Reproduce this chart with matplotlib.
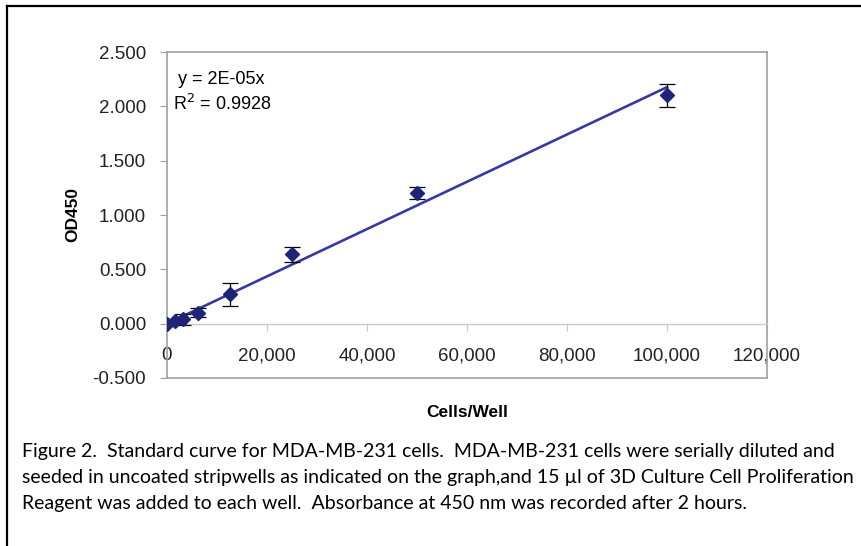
import numpy as np
import matplotlib
matplotlib.use("Agg")
import matplotlib.pyplot as plt
from matplotlib.lines import Line2D

# data (cells per well vs OD450)
cells = [0, 1562.5, 3125, 6250, 12500, 25000, 50000, 100000]
od450 = [0.00, 0.02, 0.04, 0.10, 0.27, 0.64, 1.20, 2.10]
od_err = [0.02, 0.02, 0.05, 0.04, 0.105, 0.07, 0.055, 0.105]

x_ticks = [0, 20000, 40000, 60000, 80000, 100000, 120000]
y_ticks = [-0.5, 0.0, 0.5, 1.0, 1.5, 2.0, 2.5]

equation = "y = 2E-05x"
r_squared = "R$^2$ = 0.9928"
caption = [
    "Figure 2.  Standard curve for MDA-MB-231 cells.  MDA-MB-231 cells were serially diluted and",
    "seeded in uncoated stripwells as indicated on the graph,and 15 \u00b5l of 3D Culture Cell Proliferation",
    "Reagent was added to each well.  Absorbance at 450 nm was recorded after 2 hours.",
]

plt.rcParams["font.family"] = ["Liberation Sans", "DejaVu Sans"]

fig = plt.figure(figsize=(8.61, 5.46), dpi=100)
ax = fig.add_axes([167 / 861, 1 - 378 / 546, 600 / 861, 326 / 546])

x = np.array(cells)
y = np.array(od450)
slope = np.sum(x * y) / np.sum(x * x)
xs = np.array([0, x.max()])
ax.plot(xs, slope * xs, color="#3838a0", lw=1.9, zorder=2)

ax.errorbar(cells, od450, yerr=od_err, fmt="none", ecolor="black",
            elinewidth=0.9, capsize=6, capthick=0.9, zorder=3)
ax.plot(cells, od450, "D", color="#1f2477", ms=7.5, zorder=4)

ax.set_xlim(0, 120000)
ax.set_ylim(-0.5, 2.5)
ax.set_xticks(x_ticks)
ax.set_xticklabels([f"{v:,}" for v in x_ticks])
ax.set_yticks(y_ticks)
ax.set_yticklabels([f"{v:.3f}" for v in y_ticks])

gray = "#a0a0a0"
for side in ["left", "right", "top"]:
    ax.spines[side].set_color(gray)
    ax.spines[side].set_linewidth(1.2)
ax.spines["bottom"].set_position(("data", 0))
ax.spines["bottom"].set_color("#c8c8c8")
ax.spines["bottom"].set_linewidth(1.0)
ax.plot([0, 120000], [-0.5, -0.5], color=gray, lw=1.2, clip_on=False, zorder=1)

ax.tick_params(axis="y", direction="out", length=5, color=gray, pad=10,
               labelsize=13.5, labelcolor="#222222")
ax.tick_params(axis="x", direction="out", length=5, color="#c8c8c8", pad=12,
               labelsize=13.5, labelcolor="#222222")

ax.set_ylabel("OD450", fontsize=12.5, fontweight="bold", labelpad=9)
ax.text(0.5, -0.105, "Cells/Well", transform=ax.transAxes, ha="center",
        va="center", fontsize=12.5, fontweight="bold")

ax.text(0.018, 0.915, equation, transform=ax.transAxes, fontsize=13, va="center")
ax.text(0.010, 0.84, r_squared, transform=ax.transAxes, fontsize=13, va="center")

for i, line in enumerate(caption):
    fig.text(22 / 861, 1 - (452 + i * 25.5) / 546, line, fontsize=14.0,
             va="center", ha="left", family=["Lato", "DejaVu Sans"])

# figure frame (left and top edges)
fig.add_artist(Line2D([6.5 / 861, 6.5 / 861], [0, 1 - 6 / 546], color="black",
                      lw=1.6, transform=fig.transFigure))
fig.add_artist(Line2D([6.5 / 861, 1], [1 - 6 / 546, 1 - 6 / 546], color="black",
                      lw=1.6, transform=fig.transFigure))

fig.savefig("out.png", dpi=100)
